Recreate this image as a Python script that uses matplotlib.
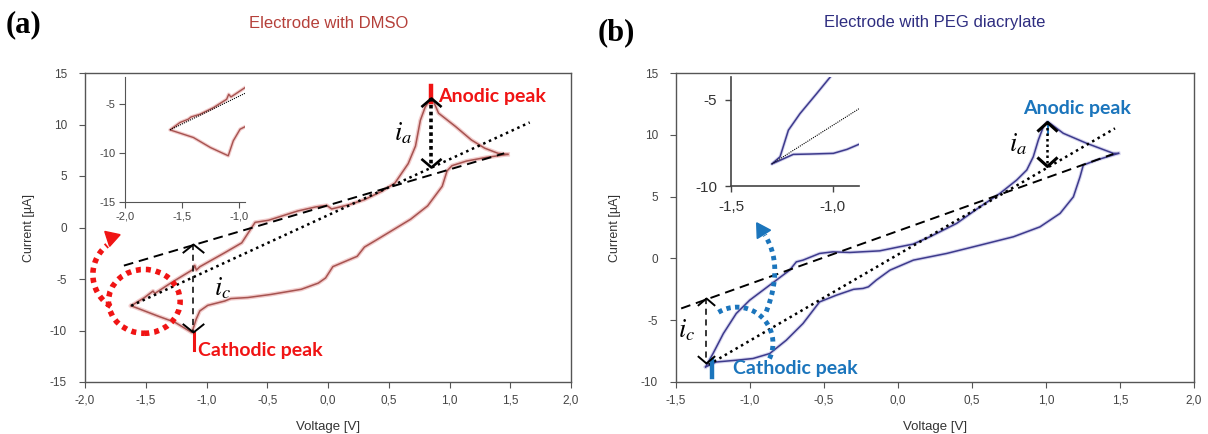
import numpy as np
import matplotlib
matplotlib.use('Agg')
import matplotlib.pyplot as plt
from matplotlib.path import Path
from matplotlib.patches import Ellipse

plt.rcParams['font.family'] = ['Liberation Sans', 'DejaVu Sans']
plt.rcParams['mathtext.fontset'] = 'stix'

# ---- data ----
# (a) DMSO electrode, anodic sweep (vertex -> right tip) and cathodic sweep back
dmso_fwd_v = [-1.62, -1.51, -1.44, -1.425, -1.29, -1.11, -1.097, -1.083, -1.055, -0.85, -0.71, -0.60,
              -0.49, -0.25, -0.10, -0.01, 0.03, 0.17, 0.30, 0.44, 0.55, 0.66, 0.72, 0.76, 0.80, 0.85,
              0.87, 0.91, 1.05, 1.18, 1.29, 1.40, 1.48]
dmso_fwd_i = [-7.6, -6.8, -6.17, -6.4, -5.36, -4.07, -3.68, -4.13, -3.81, -2.45, -1.49, 0.5,
              0.7, 1.6, 2.0, 2.15, 1.8, 2.2, 2.7, 3.5, 4.3, 6.2, 7.9, 10.4, 11.7, 12.55,
              12.2, 11.1, 9.8, 8.5, 7.7, 7.2, 7.1]
dmso_rev_v = [1.48, 1.30, 1.14, 1.02, 0.98, 0.94, 0.82, 0.68, 0.54, 0.40, 0.30, 0.24, 0.10, 0.04,
              -0.02, -0.08, -0.22, -0.47, -0.66, -0.80, -0.85, -0.99, -1.055, -1.085, -1.12, -1.26,
              -1.40, -1.62]
dmso_rev_i = [7.1, 6.8, 6.45, 6.0, 5.5, 4.0, 2.1, 0.8, -0.2, -1.2, -1.9, -2.8, -3.5, -3.8,
              -4.9, -5.4, -6.0, -6.5, -6.8, -6.9, -7.14, -7.56, -8.1, -8.9, -10.2, -9.2,
              -8.6, -7.6]
# inset (a)
dmso_in_v = [-0.947, -1.07, -1.09, -1.108, -1.225, -1.342, -1.42, -1.445, -1.518, -1.605,
             -1.40, -1.25, -1.094, -1.05, -0.99, -0.947]
dmso_in_i = [-3.3, -4.25, -3.98, -4.49, -5.35, -6.02, -6.3, -6.53, -6.87, -7.62,
             -8.4, -9.43, -10.27, -8.74, -7.55, -7.3]

# (b) PEG diacrylate electrode
peg_fwd_v = [-1.30, -1.25, -1.18, -1.093, -1.002, -0.912, -0.822, -0.732, -0.687, -0.642, -0.53,
             -0.44, -0.326, -0.124, 0.011, 0.10, 0.216, 0.396, 0.554, 0.689, 0.802, 0.87, 0.914,
             0.948, 0.982, 1.01, 1.03, 1.117, 1.275, 1.455, 1.49]
peg_fwd_i = [-8.78, -7.7, -6.08, -4.46, -3.38, -2.57, -1.76, -0.95, -0.28, -0.14, 0.40,
             0.53, 0.48, 0.61, 0.94, 1.15, 1.75, 2.83, 4.17, 5.26, 6.34, 7.15, 8.22,
             9.57, 10.65, 11.06, 10.9, 10.12, 9.31, 8.5, 8.5]
peg_rev_v = [1.49, 1.343, 1.252, 1.23, 1.185, 1.095, 0.959, 0.78, 0.554, 0.329, 0.104, -0.054,
             -0.147, -0.20, -0.236, -0.30, -0.417, -0.53, -0.642, -0.755, -0.867, -0.98, -1.093,
             -1.228, -1.30]
peg_rev_i = [8.5, 7.96, 7.55, 6.6, 4.98, 3.64, 2.55, 1.75, 1.07, 0.40, -0.14, -0.95,
             -1.76, -2.3, -2.43, -2.5, -2.98, -3.52, -5.27, -6.62, -7.7, -8.1, -8.24,
             -8.38, -8.78]
# inset (b)
peg_in_v = [-0.98, -1.013, -1.079, -1.161, -1.218, -1.259, -1.30, -1.194, -1.112, -0.997, -0.93, -0.87]
peg_in_i = [-3.2, -3.7, -4.65, -5.81, -6.77, -8.31, -8.73, -8.17, -8.15, -8.11, -7.88, -7.58]

# baselines (start, end) and peak markers
dmso_dash = ([-1.68, 1.45], [-3.7, 7.2])
dmso_dot = ([-1.62, 1.66], [-7.6, 10.2])
peg_dash = ([-1.465, 1.455], [-4.05, 8.45])
peg_dot = ([-1.28, 1.466], [-8.6, 10.52])
dmso_ia = (0.85, 12.6, 5.85)
dmso_ic = (-1.11, -1.65, -10.1)
peg_ia = (1.01, 11.0, 7.45)
peg_ic = (-1.30, -3.24, -8.45)

x_a_ticks = [-2.0, -1.5, -1.0, -0.5, 0.0, 0.5, 1.0, 1.5, 2.0]
y_a_ticks = [-15, -10, -5, 0, 5, 10, 15]
x_b_ticks = [-1.5, -1.0, -0.5, 0.0, 0.5, 1.0, 1.5, 2.0]
y_b_ticks = [-10, -5, 0, 5, 10, 15]

RED = '#f01414'
BLUE = '#1b75bc'
DOTS = (0, (0.9, 0.9))


def comma(v):
    return ('%.1f' % v).replace('.', ',')


def chev(up, ratio):
    s = -ratio if up else ratio
    return Path([(-1, s), (0, 0), (1, s)], [Path.MOVETO, Path.LINETO, Path.LINETO])


def style_main(ax, xt, yt, xlim, ylim):
    ax.set_xlim(*xlim)
    ax.set_ylim(*ylim)
    ax.set_xticks(xt)
    ax.set_xticklabels([comma(v) for v in xt])
    ax.set_yticks(yt)
    ax.set_yticklabels([str(v) for v in yt])
    ax.tick_params(direction='out', length=4, width=0.8, colors='#555', labelsize=8.5,
                   labelcolor='#444')
    ax.tick_params(axis='y', pad=9)
    ax.tick_params(axis='x', pad=5)
    for s in ax.spines.values():
        s.set_color('#555')
        s.set_linewidth(1.0)
    ax.set_xlabel('Voltage [V]', fontsize=9.5, color='#333')
    ax.set_ylabel('Current [µA]', fontsize=9, color='#333')


def peak_arrow(ax, pk, ls, lw, hw, ratio, ms):
    x, top, bot = pk
    ax.plot([x, x], [top, bot], color='k', ls=ls, lw=lw, zorder=5)
    ax.plot([x], [top], marker=chev(True, ratio), ms=ms, mew=hw, mfc='none', mec='k', zorder=6)
    ax.plot([x], [bot], marker=chev(False, ratio), ms=ms, mew=hw, mfc='none', mec='k', zorder=6)


def dotted_arc(ax, c, w, h, t1, t2, color, lw):
    t = np.radians(np.linspace(t1, t2, 80))
    ax.plot(c[0] + w / 2 * np.cos(t), c[1] + h / 2 * np.sin(t), color=color, lw=lw,
            ls=DOTS, zorder=6)


fig = plt.figure(figsize=(12.08, 4.34), dpi=100)

# ---------------- panel (a) ----------------
ax = fig.add_axes([85 / 1208, 52 / 434, 486 / 1208, 309 / 434])
style_main(ax, x_a_ticks, y_a_ticks, (-2, 2), (-15, 15))
ax.yaxis.set_label_coords(-0.103, 0.5)
ax.xaxis.set_label_coords(0.5, -0.125)
c_a = '#a65350'
for v, i in [(dmso_fwd_v, dmso_fwd_i), (dmso_rev_v, dmso_rev_i)]:
    ax.plot(v, i, color='#f2cccc', lw=3.0, zorder=2)
    ax.plot(v, i, color=c_a, lw=1.1, zorder=3)
ax.plot(*dmso_dash, color='k', ls=(0, (5, 3)), lw=1.4, zorder=4)
ax.plot(*dmso_dot, color='k', ls=(0, (1, 1.5)), lw=1.8, zorder=4)
peak_arrow(ax, dmso_ia, (0, (1, 0.9)), 2.6, 1.9, 0.85, 14.5)
peak_arrow(ax, dmso_ic, (0, (4, 3)), 1.1, 1.4, 0.8, 15.5)
ax.plot([0.85, 0.85], [12.2, 13.75], color=RED, lw=3.2, zorder=4)
ax.plot([-1.10, -1.10], [-10.2, -11.9], color=RED, lw=2.2, zorder=4)
ax.text(0.905, 12.75, 'Anodic peak', color=RED, fontsize=14, fontweight='bold',
        family=['Lato', 'DejaVu Sans'], ha='left', va='center', zorder=7)
ax.text(-1.067, -11.9, 'Cathodic peak', color=RED, fontsize=14, fontweight='bold',
        family=['Lato', 'DejaVu Sans'], ha='left', va='center', zorder=7)
ax.text(0.62, 9.2, r'$i_a$', fontsize=19, ha='center', va='center', zorder=7)
ax.text(-0.867, -5.9, r'$i_c$', fontsize=19, ha='center', va='center', zorder=7)
ax.add_patch(Ellipse((-1.512, -7.17), 0.59, 6.2, fill=False, ec=RED, lw=4,
                     ls=DOTS, zorder=6))
dotted_arc(ax, (-1.63, -4.57), 0.61, 7.2, 239, 128, RED, 4)
ax.plot([-1.79], [-0.95], marker=(3, 0, 168), ms=13, color=RED, zorder=6)

# inset (a)
axi = fig.add_axes([125 / 1208, 232 / 434, 120 / 1208, 125 / 434])
axi.patch.set_alpha(0)
axi.plot(dmso_in_v, dmso_in_i, color='#f2cccc', lw=2.6)
axi.plot(dmso_in_v, dmso_in_i, color=c_a, lw=1.0)
axi.plot([-1.605, -0.947], [-7.62, -3.88], color='k', ls=(0, (1, 1)), lw=0.8)
axi.set_xlim(-2.0, -0.947)
axi.set_ylim(-15, -2.21)
axi.set_xticks([-2.0, -1.5, -1.0])
axi.set_xticklabels([comma(v) for v in [-2.0, -1.5, -1.0]])
axi.set_yticks([-15, -10, -5])
axi.set_yticklabels(['-15', '-10', '-5'])
axi.tick_params(direction='out', length=4, width=0.8, colors='#555', labelsize=8,
                labelcolor='#444', pad=3)
for k in ['top', 'right']:
    axi.spines[k].set_visible(False)
for k in ['left', 'bottom']:
    axi.spines[k].set_color('#555')

# ---------------- panel (b) ----------------
bx = fig.add_axes([676 / 1208, 52 / 434, 518 / 1208, 309 / 434])
style_main(bx, x_b_ticks, y_b_ticks, (-1.5, 2), (-10, 15))
bx.yaxis.set_label_coords(-0.106, 0.5)
bx.xaxis.set_label_coords(0.5, -0.125)
c_b = '#3d3a8c'
for v, i in [(peg_fwd_v, peg_fwd_i), (peg_rev_v, peg_rev_i)]:
    bx.plot(v, i, color='#d6d5ee', lw=2.6, zorder=2)
    bx.plot(v, i, color=c_b, lw=1.1, zorder=3)
bx.plot(*peg_dash, color='k', ls=(0, (5, 3)), lw=1.4, zorder=4)
bx.plot(*peg_dot, color='k', ls=(0, (1, 1.5)), lw=1.8, zorder=4)
peak_arrow(bx, peg_ia, (0, (1, 1.2)), 1.8, 2.2, 0.9, 14.5)
peak_arrow(bx, peg_ic, (0, (4, 3)), 1.1, 1.4, 0.85, 12.5)
bx.plot([1.016, 1.016], [10.1, 11.06], color=BLUE, lw=1.5, zorder=4)
bx.plot([-1.26, -1.26], [-8.24, -9.6], color=BLUE, lw=3.2, zorder=4)
bx.text(0.845, 12.15, 'Anodic peak', color=BLUE, fontsize=14, fontweight='bold',
        family=['Lato', 'DejaVu Sans'], ha='left', va='center', zorder=7)
bx.text(-1.115, -8.9, 'Cathodic peak', color=BLUE, fontsize=14, fontweight='bold',
        family=['Lato', 'DejaVu Sans'], ha='left', va='center', zorder=7)
bx.text(0.81, 9.2, r'$i_a$', fontsize=19, ha='center', va='center', zorder=7)
bx.text(-1.43, -5.8, r'$i_c$', fontsize=19, ha='center', va='center', zorder=7)
dotted_arc(bx, (-1.088, -6.86), 0.486, 5.83, 121, -27, BLUE, 3.5)
# curved dotted arrow pointing at the inset
p0, p1, p2 = np.array([-0.89, -4.3]), np.array([-0.77, -0.6]), np.array([-0.90, 1.9])
tt = np.linspace(0, 1, 60)[:, None]
curve = (1 - tt) ** 2 * p0 + 2 * (1 - tt) * tt * p1 + tt ** 2 * p2
bx.plot(curve[:, 0], curve[:, 1], color=BLUE, lw=3.5, ls=DOTS, zorder=6)
bx.plot([-0.925], [2.3], marker=(3, 0, 32), ms=13, color=BLUE, zorder=6)

# inset (b)
bxi = fig.add_axes([731 / 1208, 248 / 434, 128 / 1208, 109 / 434])
bxi.patch.set_alpha(0)
bxi.plot(peg_in_v, peg_in_i, color='#d6d5ee', lw=2.4)
bxi.plot(peg_in_v, peg_in_i, color=c_b, lw=1.1)
bxi.plot([-1.30, -0.87], [-8.73, -5.52], color='k', ls=(0, (1, 1)), lw=0.8)
bxi.set_xlim(-1.5, -0.871)
bxi.set_ylim(-10, -3.69)
bxi.set_xticks([-1.5, -1.0])
bxi.set_xticklabels([comma(v) for v in [-1.5, -1.0]])
bxi.set_yticks([-10, -5])
bxi.set_yticklabels(['-10', '-5'])
bxi.tick_params(direction='out', length=4, width=1.0, colors='#444', labelsize=11,
                labelcolor='#333', pad=6)
for k in ['top', 'right']:
    bxi.spines[k].set_visible(False)
for k in ['left', 'bottom']:
    bxi.spines[k].set_color('#444')
    bxi.spines[k].set_linewidth(1.2)

# titles and panel letters
fig.text(329 / 1208, 1 - 23 / 434, 'Electrode with DMSO', color='#b5403a', fontsize=12,
         ha='center', va='center')
fig.text(935 / 1208, 1 - 23 / 434, 'Electrode with PEG diacrylate', color='#2e2d80',
         fontsize=12, ha='center', va='center')
fig.text(6 / 1208, 1 - 25 / 434, '(a)', fontsize=22, fontweight='bold',
         family=['Liberation Serif', 'DejaVu Serif'], ha='left', va='center')
fig.text(598 / 1208, 1 - 33 / 434, '(b)', fontsize=22, fontweight='bold',
         family=['Liberation Serif', 'DejaVu Serif'], ha='left', va='center')

fig.savefig('out.png', dpi=100)
